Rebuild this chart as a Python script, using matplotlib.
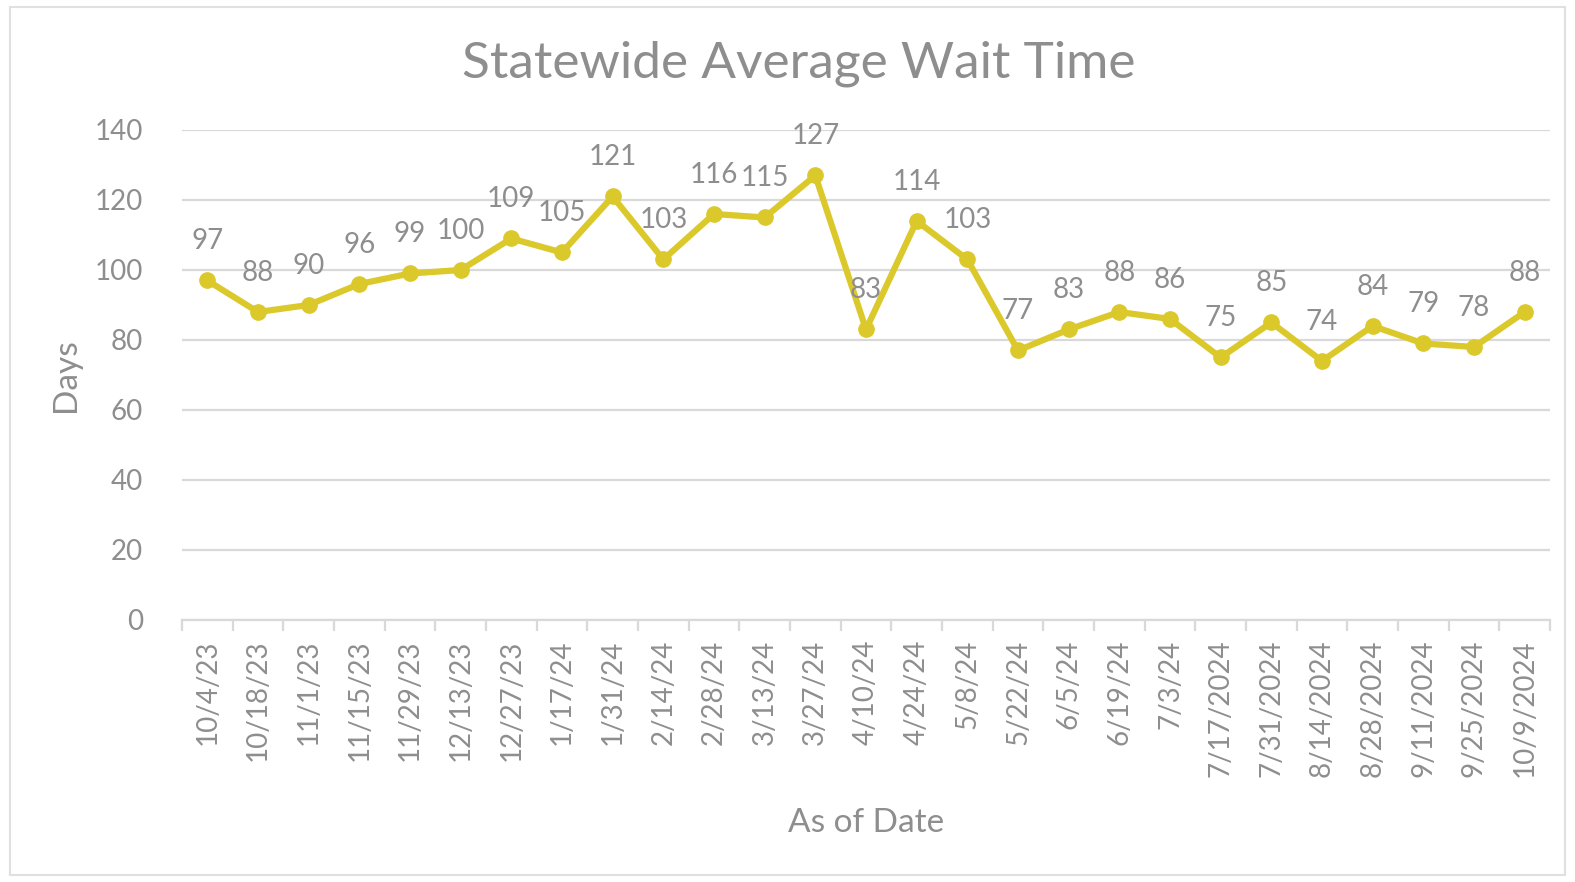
import matplotlib.pyplot as plt
import numpy as np
from matplotlib.patches import Rectangle

dates = ["10/4/23", "10/18/23", "11/1/23", "11/15/23", "11/29/23", "12/13/23",
         "12/27/23", "1/17/24", "1/31/24", "2/14/24", "2/28/24", "3/13/24",
         "3/27/24", "4/10/24", "4/24/24", "5/8/24", "5/22/24", "6/5/24",
         "6/19/24", "7/3/24", "7/17/2024", "7/31/2024", "8/14/2024",
         "8/28/2024", "9/11/2024", "9/25/2024", "10/9/2024"]
wait_days = [97, 88, 90, 96, 99, 100, 109, 105, 121, 103, 116, 115, 127, 83,
             114, 103, 77, 83, 88, 86, 75, 85, 74, 84, 79, 78, 88]

plt.rcParams['font.family'] = ['Lato', 'DejaVu Sans']
txt = "#8e8e8e"
grid = "#d9d9d9"
yellow = "#dbc92c"

fig = plt.figure(figsize=(15.75, 8.82), dpi=100)
fig.patches.append(Rectangle((10 / 1575, 7 / 882), 1555 / 1575, 868 / 882,
                             transform=fig.transFigure, fill=False,
                             edgecolor="#e0e0e0", linewidth=1.5))
ax = fig.add_axes([182 / 1575, 1 - 620 / 882, 1368 / 1575, 490 / 882])

x = np.arange(len(dates))
ax.plot(x, wait_days, color=yellow, linewidth=4.5, marker='o', markersize=11,
        solid_joinstyle='round', zorder=3)
for xi, v in zip(x, wait_days):
    ax.annotate(str(v), (xi, v), xytext=(0, 19), textcoords='offset points',
                ha='center', va='bottom', fontsize=20, color=txt)

ax.set_xlim(-0.5, len(dates) - 0.5)
ax.set_ylim(0, 140)
ax.set_yticks(range(0, 141, 20))
ax.yaxis.grid(True, color=grid, linewidth=1.6)
ax.set_axisbelow(True)
for s in ['top', 'right', 'left']:
    ax.spines[s].set_visible(False)
ax.spines['bottom'].set_color(grid)
ax.spines['bottom'].set_linewidth(1.6)

ax.set_xticks(x)
ax.set_xticklabels(dates, rotation=90, fontsize=20, color=txt)
ax.set_xticks(np.arange(-0.5, len(dates), 1), minor=True)
ax.tick_params(axis='x', which='major', length=0, pad=14)
ax.tick_params(axis='x', which='minor', length=8, width=1.6, color=grid)
ax.tick_params(axis='y', length=0, labelsize=20, labelcolor=txt, pad=28)

ax.set_xlabel("As of Date", fontsize=24, color=txt, labelpad=22)
ax.set_ylabel("Days", fontsize=24, color=txt, labelpad=10)
fig.text(0.507, 0.928, "Statewide Average Wait Time", ha='center', va='center',
         fontsize=37, color=txt)

fig.savefig("out.png", dpi=100)
